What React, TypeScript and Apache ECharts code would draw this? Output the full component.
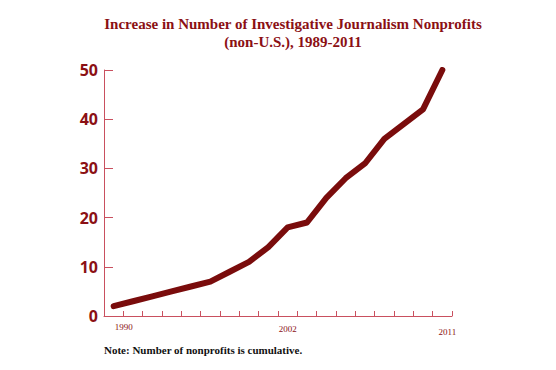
import React, { useEffect, useRef } from "react";
import * as echarts from "echarts";

const titleLines = [
  "Increase in Number of Investigative Journalism Nonprofits",
  "(non-U.S.), 1989-2011",
];
const noteText = "Note: Number of nonprofits is cumulative.";
// 18 category slots along the x axis; only three carry printed labels
const xLabels = ["1990", "", "", "", "", "", "", "", "", "2002", "", "", "", "", "", "", "", "2011"];
const nonprofits = [2, 3, 4, 5, 6, 7, 9, 11, 14, 18, 19, 24, 28, 31, 36, 39, 42, 50];
const yMin = 0;
const yMax = 50;
const yStep = 10;

const LINE = "#7a0c0c";
const AXIS = "#c9505f";
const LABEL = "#8b1014";

export default function App() {
  const ref = useRef<HTMLDivElement>(null);
  useEffect(() => {
    if (!ref.current) return;
    const chart = echarts.init(ref.current, undefined, { renderer: "svg" });
    chart.setOption({
      animation: false,
      backgroundColor: "#ffffff",
      title: {
        text: titleLines.join("\n"),
        left: 288,
        top: 10,
        textAlign: "center",
        textStyle: {
          fontFamily: "Liberation Serif",
          fontWeight: "bold",
          fontSize: 15,
          lineHeight: 18,
          color: LABEL,
        },
      },
      grid: { left: 104, top: 70, width: 348, height: 246, containLabel: false },
      xAxis: {
        type: "category",
        data: xLabels,
        boundaryGap: true,
        axisLine: { show: true, lineStyle: { color: AXIS, width: 1 } },
        axisTick: { show: true, inside: true, length: 5, lineStyle: { color: AXIS } },
        axisLabel: {
          interval: 0,
          margin: 6,
          color: LABEL,
          fontFamily: "Liberation Serif",
          fontSize: 9,
          formatter: (v: string) => {
            if (v === "1990") return "{a|" + v + "}";
            if (v === "2002") return "{b|" + v + "}";
            if (v === "2011") return "{c|" + v + "}";
            return "";
          },
          rich: {
            a: { padding: [0, 0, 0, 20], fontFamily: "Liberation Serif", fontSize: 9, color: LABEL },
            b: { padding: [2, 0, 0, 0], fontFamily: "Liberation Serif", fontSize: 9, color: LABEL },
            c: { padding: [5, 0, 0, 10], fontFamily: "Liberation Serif", fontSize: 9, color: LABEL },
          },
        },
        splitLine: { show: false },
      },
      yAxis: {
        type: "value",
        min: yMin,
        max: yMax,
        interval: yStep,
        axisLine: { show: true, lineStyle: { color: AXIS, width: 1 } },
        axisTick: { show: true, inside: true, length: 9, lineStyle: { color: AXIS } },
        axisLabel: {
          margin: 6,
          color: LABEL,
          fontFamily: "Open Sans",
          fontWeight: "bold",
          fontSize: 16,
        },
        splitLine: { show: false },
      },
      series: [
        {
          type: "line",
          data: nonprofits,
          showSymbol: false,
          symbol: "none",
          lineStyle: { color: LINE, width: 6, cap: "round", join: "round" },
          itemStyle: { color: LINE },
        },
      ],
      graphic: [
        {
          type: "text",
          left: 104,
          top: 344,
          style: {
            text: noteText,
            fontFamily: "Liberation Serif",
            fontWeight: "bold",
            fontSize: 11,
            fill: "#111111",
          },
        },
      ],
    });
    return () => chart.dispose();
  }, []);
  return (
    <div
      ref={ref}
      style={{ position: "absolute", left: 0, top: 0, width: 556, height: 370 }}
    />
  );
}
